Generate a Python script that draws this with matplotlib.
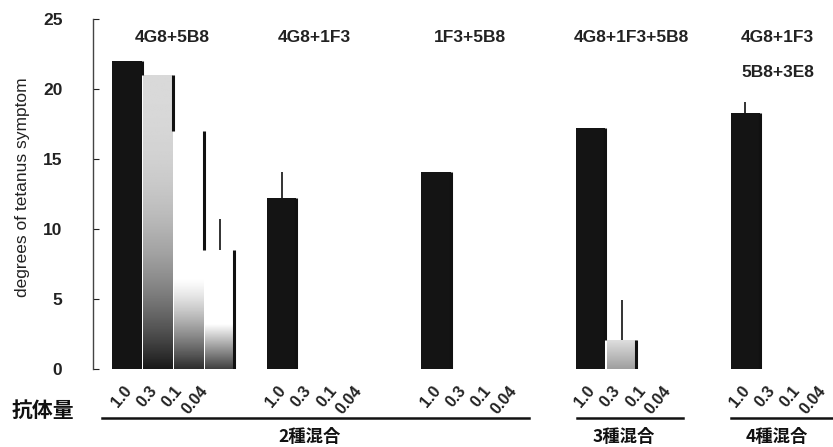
import numpy as np
import matplotlib
matplotlib.use("Agg")
from matplotlib import pyplot as plt
from matplotlib.patches import Rectangle

plt.rcParams['font.family'] = ['Liberation Sans', 'Noto Sans CJK JP', 'DejaVu Sans']

# data
groups = ["4G8+5B8", "4G8+1F3", "1F3+5B8", "4G8+1F3+5B8", "4G8+1F3\n5B8+3E8"]
doses = ["1.0", "0.3", "0.1", "0.04"]
scores = [[22.0, 21.0, 17.0, 8.5],
          [12.2, 0.0, 0.0, 0.0],
          [14.1, 0.0, 0.0, 0.0],
          [17.2, 2.1, 0.0, 0.0],
          [18.3, 0.0, 0.0, 0.0]]
errors = [[0.0, 0.0, 0.0, 2.2],
          [1.9, 0.0, 0.0, 0.0],
          [0.0, 0.0, 0.0, 0.0],
          [0.0, 2.8, 0.0, 0.0],
          [0.8, 0.0, 0.0, 0.0]]
mixes = ["2種混合", "3種混合", "4種混合"]
mix_groups = [(0, 2), (3, 3), (4, 4)]

# gradient fills (bottom gray, top gray, fade height, power); others are black
fills = {(0, 1): (0.10, 0.85, 21.0, 2.5),
         (0, 2): (0.18, 1.00, 6.5, 1.3),
         (0, 3): (0.25, 1.00, 3.2, 1.0),
         (3, 1): (0.62, 0.88, 2.1, 1.0)}
title_dx = [1.45, 1.05, 1.1, 1.3, 1.05]

fig = plt.figure(figsize=(8.33, 4.47), dpi=100)
ax = fig.add_axes([93 / 833, 78 / 447, 741 / 833, 350 / 447])

width = 0.95
ticks = []
ticklabels = []
for g, vals in enumerate(scores):
    for i, h in enumerate(vals):
        x = g * 5 + i
        # labels sit a little tighter than the bars
        ticks.append(g * 5 + 0.05 + 0.82 * i)
        ticklabels.append(doses[i])
        if h <= 0:
            continue
        if (g, i) in fills:
            b, t, fade, p = fills[(g, i)]
            yy = np.linspace(0, h, 200)
            frac = np.clip(yy / fade, 0, 1)
            gray = t + (b - t) * (1 - frac) ** p
            rect = Rectangle((x - width / 2, 0), width, h, facecolor='none',
                             edgecolor='none')
            ax.add_patch(rect)
            im = ax.imshow(gray[:, None], cmap='gray', vmin=0, vmax=1,
                           extent=[x - width / 2, x + width / 2, 0, h],
                           origin='lower', aspect='auto', zorder=2)
            im.set_clip_path(rect)
        else:
            ax.bar(x, h, width=width, color='#141414', linewidth=0, zorder=2)
        nxt = vals[i + 1] if i + 1 < len(vals) else 0.0
        if nxt < h:
            ax.vlines(x + width / 2, nxt, h, color='#111111', lw=2.2, zorder=3)
        if errors[g][i] > 0:
            ax.vlines(x, h, h + errors[g][i], color='#333333', lw=1.4, zorder=3)

for g, name in enumerate(groups):
    for k, line in enumerate(name.split("\n")):
        ax.text(g * 5 + title_dx[g], 23.7 - 2.5 * k, line, ha='center',
                va='center', fontsize=12.5, fontweight='bold', color='#222222')

ax.set_xlim(-1.1, 22.87)
ax.set_ylim(0, 25)
ax.set_yticks(range(0, 26, 5))
ax.tick_params(axis='y', direction='in', length=4, width=0.8, pad=22,
               labelsize=12.5, colors='#222222')
for lab in ax.get_yticklabels():
    lab.set_fontweight('bold')
ax.set_xticks(ticks)
ax.set_xticklabels(ticklabels, rotation=50, ha='right', va='center',
                   rotation_mode='anchor', fontsize=11.5, fontweight='bold',
                   color='#222222')
ax.tick_params(axis='x', length=0, pad=14)
for side in ['top', 'right', 'bottom']:
    ax.spines[side].set_visible(False)
ax.spines['left'].set_color('#444444')
ax.spines['left'].set_linewidth(1.0)

ax.set_ylabel("degrees of tetanus symptom", fontsize=12.5, color='#222222')
ax.yaxis.set_label_coords(-0.085, 0.52)

trans = ax.get_xaxis_transform()
for (g0, g1), name in zip(mix_groups, mixes):
    x0 = g0 * 5 - (0.8 if g0 == 0 else 0.45)
    x1 = min(g1 * 5 + 3.0, 22.87)
    ax.plot([x0, x1], [-0.14, -0.14], color='#111111', lw=1.8,
            transform=trans, clip_on=False)
    ax.text((x0 + x1) / 2 - 0.2, -0.193, name, transform=trans, ha='center',
            va='center', fontsize=12.5, fontweight='bold',
            family=['Noto Sans CJK JP', 'DejaVu Sans'], color='#111111')

fig.text(43 / 833, 1 - 410 / 447, "抗体量", ha='center', va='center',
         fontsize=15, fontweight='bold',
         family=['Noto Sans CJK JP', 'DejaVu Sans'], color='#111111')

fig.savefig('out.png', dpi=100)
